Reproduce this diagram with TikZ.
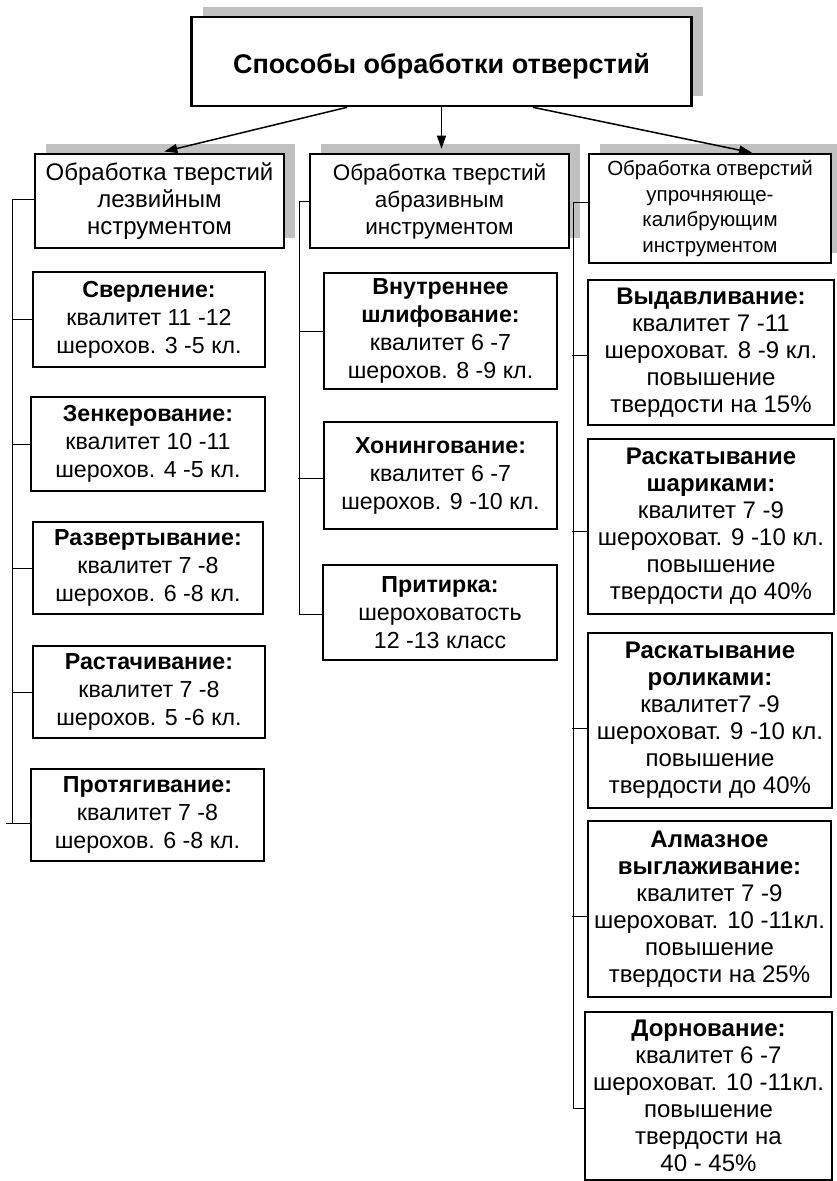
\documentclass[tikz,border=0pt]{standalone}
\usepackage{fontspec}
\setmainfont{Liberation Sans}
\usetikzlibrary{arrows.meta,shadows}
\definecolor{shadowgray}{RGB}{192,192,192}
\begin{document}
\begin{tikzpicture}[x=1pt,y=-1pt,
  box/.style={draw, line width=2.6pt, fill=white, inner sep=0pt, align=center},
  shd/.style={general shadow={draw=none, fill=shadowgray, shadow xshift=11pt, shadow yshift=10pt}},
  ftitle/.style={font=\fontsize{27}{32}\selectfont\bfseries},
  fltwoa/.style={font=\fontsize{24}{27}\selectfont},
  fltwob/.style={font=\fontsize{22.5}{27}\selectfont},
  fltwor/.style={font=\fontsize{20.5}{25.5}\selectfont},
  fleft/.style={font=\fontsize{23.2}{28}\selectfont},
  fright/.style={font=\fontsize{24}{27}\selectfont},
  link/.style={line width=1pt},
  arr/.style={line width=1.5pt, -{Triangle[length=13pt,width=9pt]}}
]
\fill[white] (0,0) rectangle (836,1181);
\useasboundingbox (0,0) rectangle (836,1181);

% top
\node[box, shd, minimum width=500pt, minimum height=89pt] (top) at (441.5,61.5) {};
\node[ftitle, inner sep=0pt] (toptext) at ([yshift=-5pt]top.center) {Способы обработки отверстий};

% level 2
\node[box, shd, fltwoa, minimum width=249pt, minimum height=94pt] (la) at (159.5,201)
  {Обработка тверстий\\лезвийным\\нструментом};
\node[box, shd, fltwob, minimum width=259pt, minimum height=94pt] (mb) at (439.5,201)
  {Обработка тверстий\\абразивным\\инструментом};
\node[box, shd, fltwor, minimum width=242pt, minimum height=109pt] (rc) at (710,208.5)
  {Обработка отверстий\\упрочняюще-\\калибрующим\\инструментом};

% left column
\node[box, fleft, minimum width=232pt, minimum height=95pt] (c1) at (149,319.5)
  {\textbf{Сверление:}\\квалитет 11 -12\\шерохов. 3 -5 кл.};
\node[box, fleft, minimum width=234pt, minimum height=94pt] (c2) at (148,444)
  {\textbf{Зенкерование:}\\квалитет 10 -11\\шерохов. 4 -5 кл.};
\node[box, fleft, minimum width=230pt, minimum height=92pt] (c3) at (148,568)
  {\textbf{Развертывание:}\\квалитет 7 -8\\шерохов. 6 -8 кл.};
\node[box, fleft, minimum width=232pt, minimum height=92pt] (c4) at (149,692)
  {\textbf{Растачивание:}\\квалитет 7 -8\\шерохов. 5 -6 кл.};
\node[box, fleft, minimum width=233pt, minimum height=92pt] (c5) at (147.5,815)
  {\textbf{Протягивание:}\\квалитет 7 -8\\шерохов. 6 -8 кл.};

% middle column
\node[box, fleft, minimum width=233pt, minimum height=116pt] (m1) at (440.5,331)
  {\textbf{Внутреннее}\\\textbf{шлифование:}\\квалитет 6 -7\\шерохов. 8 -9 кл.};
\node[box, fleft, minimum width=233pt, minimum height=107pt] (m2) at (440.5,475.5)
  {\textbf{Хонингование:}\\квалитет 6 -7\\шерохов. 9 -10 кл.};
\node[box, fleft, minimum width=234pt, minimum height=95pt] (m3) at (440,612.5)
  {\textbf{Притирка:}\\шероховатость\\12 -13 класс};

% right column
\node[box, fright, minimum width=246pt, minimum height=145pt] (r1) at (711,352.5)
  {\textbf{Выдавливание:}\\квалитет 7 -11\\шероховат. 8 -9 кл.\\повышение\\твердости на 15\%};
\node[box, fright, minimum width=246pt, minimum height=175pt] (r2) at (711,526.5)
  {\textbf{Раскатывание}\\\textbf{шариками:}\\квалитет 7 -9\\шероховат. 9 -10 кл.\\повышение\\твердости до 40\%};
\node[box, fright, minimum width=244pt, minimum height=175pt] (r3) at (710,720.5)
  {\textbf{Раскатывание}\\\textbf{роликами:}\\квалитет7 -9\\шероховат. 9 -10 кл.\\повышение\\твердости до 40\%};
\node[box, fright, minimum width=243pt, minimum height=176pt] (r4) at (709.5,909)
  {\textbf{Алмазное}\\\textbf{выглаживание:}\\квалитет 7 -9\\шероховат. 10 -11кл.\\повышение\\твердости на 25\%};
\node[box, fright, minimum width=247pt, minimum height=168pt] (r5) at (708.5,1096)
  {\textbf{Дорнование:}\\квалитет 6 -7\\шероховат. 10 -11кл.\\повышение\\твердости на\\40 - 45\%};

% arrows
\draw[arr, shorten >=5pt] ([xshift=-94.5pt]top.south) -- (la.north);
\draw[arr, shorten >=4pt] (top.south) -- (top.south |- mb.north);
\draw[arr] ([xshift=91.5pt]top.south) -- ([xshift=42pt]rc.north);

% left spine
\coordinate (ls) at (12,199);
\coordinate (le) at (12,823);
\draw[link] ([yshift=2pt]la.west) -- (ls) -- (le);
\foreach \n in {c1,c2,c3,c4} \draw[link] (\n.west) -- (\n.west -| ls);
\draw[link] ([yshift=-8pt]c5.west) -- ++(-24pt,0);

% middle spine
\coordinate (ms) at (299,201);
\coordinate (me) at (299,614);
\draw[link] (mb.west) -- (ms) -- (me) -- (me -| m3.west);
\draw[link] (m1.west) -- (m1.west -| ms);
\draw[link] ([yshift=-2.5pt]m2.west) -- ++(-25pt,0);

% right spine
\coordinate (rs) at (573,202);
\coordinate (re) at (573,1108);
\draw[link] ([yshift=6.5pt]rc.west) -- (rs) -- (re) -- (re -| r5.west);
\foreach \n/\d in {r1/-2.5,r2/-4.5,r3/-7.5,r4/-7} \draw[link] ([yshift=\d pt]\n.west) -- ++(-15pt,0);
\end{tikzpicture}
\end{document}
